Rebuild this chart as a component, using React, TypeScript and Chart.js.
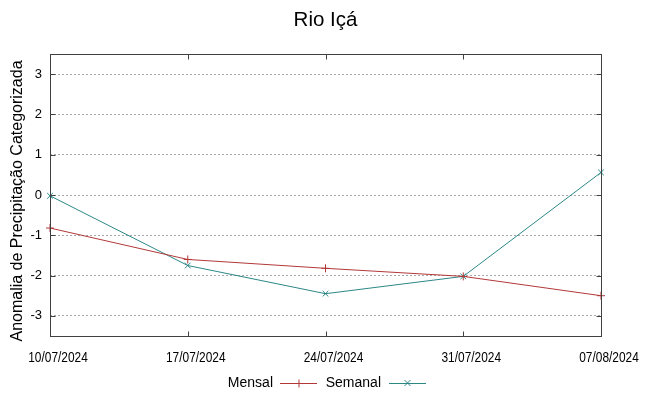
import React, { useEffect, useRef } from 'react';
import { Chart, registerables } from 'chart.js';
Chart.register(...registerables);

const chartTitle = 'Rio Içá';
const yAxisTitle = 'Anomalia de Precipitação Categorizada';
const dates = ['10/07/2024', '17/07/2024', '24/07/2024', '31/07/2024', '07/08/2024'];
const mensal = [-0.82, -1.6, -1.82, -2.02, -2.5];
const semanal = [-0.02, -1.75, -2.45, -2.02, 0.56];
const yTickValues = [-3, -2, -1, 0, 1, 2, 3];
const seriesNames = ['Mensal', 'Semanal'];
const seriesColors = ['#b23838', '#2c8787'];
const seriesMarkers = ['cross', 'crossRot'];

const FONT = "'Liberation Sans', Arial, sans-serif";

const decorPlugin = {
  id: 'decor',
  afterDraw(chart: any) {
    const { ctx, chartArea } = chart;
    const { left, right, top, bottom } = chartArea;
    const xs = chart.scales.x;
    const ys = chart.scales.y;
    ctx.save();
    // frame
    ctx.strokeStyle = '#404040';
    ctx.lineWidth = 1;
    const l = Math.round(left) + 0.5, r = Math.round(right) + 0.5;
    const t = Math.round(top) + 0.5, b = Math.round(bottom) + 0.5;
    ctx.strokeRect(l, t, r - l, b - t);
    // inward ticks
    ctx.beginPath();
    yTickValues.forEach((v) => {
      const y = Math.round(ys.getPixelForValue(v)) + 0.5;
      ctx.moveTo(l, y); ctx.lineTo(l + 5, y);
      ctx.moveTo(r, y); ctx.lineTo(r - 5, y);
    });
    dates.forEach((_, i) => {
      const x = Math.round(xs.getPixelForValue(i)) + 0.5;
      ctx.moveTo(x, b); ctx.lineTo(x, b - 5);
      ctx.moveTo(x, t); ctx.lineTo(x, t + 5);
    });
    ctx.stroke();

    // x tick labels (narrow style, offset right as in reference)
    ctx.fillStyle = '#000';
    ctx.font = `14.5px ${FONT}`;
    ctx.textAlign = 'center';
    ctx.textBaseline = 'alphabetic';
    dates.forEach((d, i) => {
      const x = xs.getPixelForValue(i) + 8;
      ctx.save();
      ctx.translate(x, 362);
      ctx.scale(0.82, 1);
      ctx.fillText(d, 0, 0);
      ctx.restore();
    });

    // title
    ctx.fillStyle = '#000';
    ctx.font = `20.5px ${FONT}`;
    ctx.textAlign = 'center';
    ctx.textBaseline = 'middle';
    ctx.fillText(chartTitle, (left + right) / 2, 20);

    // y title
    ctx.save();
    ctx.translate(18, 201);
    ctx.rotate(-Math.PI / 2);
    ctx.font = `16px ${FONT}`;
    ctx.fillStyle = '#000';
    ctx.fillText(yAxisTitle, 0, 0);
    ctx.restore();

    // legend
    const ly = 383;
    const items = [
      { textRight: 273, lineStart: 280, lineEnd: 317 },
      { textRight: 381, lineStart: 389, lineEnd: 426 },
    ];
    ctx.font = `14px ${FONT}`;
    ctx.textAlign = 'right';
    ctx.textBaseline = 'middle';
    items.forEach((it, i) => {
      ctx.fillStyle = '#000';
      ctx.fillText(seriesNames[i], it.textRight, ly);
      ctx.strokeStyle = seriesColors[i];
      ctx.lineWidth = 1;
      ctx.beginPath();
      ctx.moveTo(it.lineStart, ly + 0.5);
      ctx.lineTo(it.lineEnd, ly + 0.5);
      ctx.stroke();
      const cx = (it.lineStart + it.lineEnd) / 2;
      ctx.beginPath();
      if (seriesMarkers[i] === 'cross') {
        ctx.moveTo(cx + 0.5, ly - 3.5);
        ctx.lineTo(cx + 0.5, ly + 4.5);
      } else {
        ctx.moveTo(cx - 3, ly - 3);
        ctx.lineTo(cx + 3, ly + 3);
        ctx.moveTo(cx + 3, ly - 3);
        ctx.lineTo(cx - 3, ly + 3);
      }
      ctx.stroke();
    });
    ctx.restore();
  },
};

export default function App() {
  const ref = useRef<HTMLCanvasElement>(null);
  useEffect(() => {
    document.body.style.margin = '0';
    const c = new Chart(ref.current!, {
      type: 'line',
      data: {
        labels: dates,
        datasets: [mensal, semanal].map((d, i) => ({
          label: seriesNames[i],
          data: d,
          borderColor: seriesColors[i],
          backgroundColor: seriesColors[i],
          borderWidth: 1,
          pointStyle: seriesMarkers[i] as any,
          pointRadius: 4,
          pointBorderColor: seriesColors[i],
          pointBorderWidth: 1,
          tension: 0,
          fill: false,
        })),
      },
      options: {
        animation: false,
        responsive: false,
        maintainAspectRatio: false,
        devicePixelRatio: 1,
        layout: { padding: { top: 54, right: 48, left: 0, bottom: 0 } },
        plugins: {
          legend: { display: false },
          title: { display: false },
          tooltip: { enabled: false },
        },
        scales: {
          x: {
            type: 'category',
            offset: false,
            grid: { display: false, drawTicks: false },
            border: { display: false },
            ticks: { display: false },
            afterFit: (s: any) => { s.height = 60; },
          },
          y: {
            min: -3.5,
            max: 3.5,
            grid: { color: '#a8a8a8', lineWidth: 1, drawTicks: false },
            border: { display: false, dash: [2, 2] },
            afterBuildTicks: (s: any) => { s.ticks = yTickValues.map((v) => ({ value: v })); },
            ticks: {
              padding: 8,
              color: '#000',
              font: { family: FONT, size: 13 },
            },
            afterFit: (s: any) => { s.width = 50; },
          },
        },
      },
      plugins: [decorPlugin],
    });
    return () => c.destroy();
  }, []);
  return (
    <div style={{ position: 'absolute', left: 0, top: 0, width: 649, height: 396 }}>
      <canvas ref={ref} width={649} height={396} />
    </div>
  );
}
